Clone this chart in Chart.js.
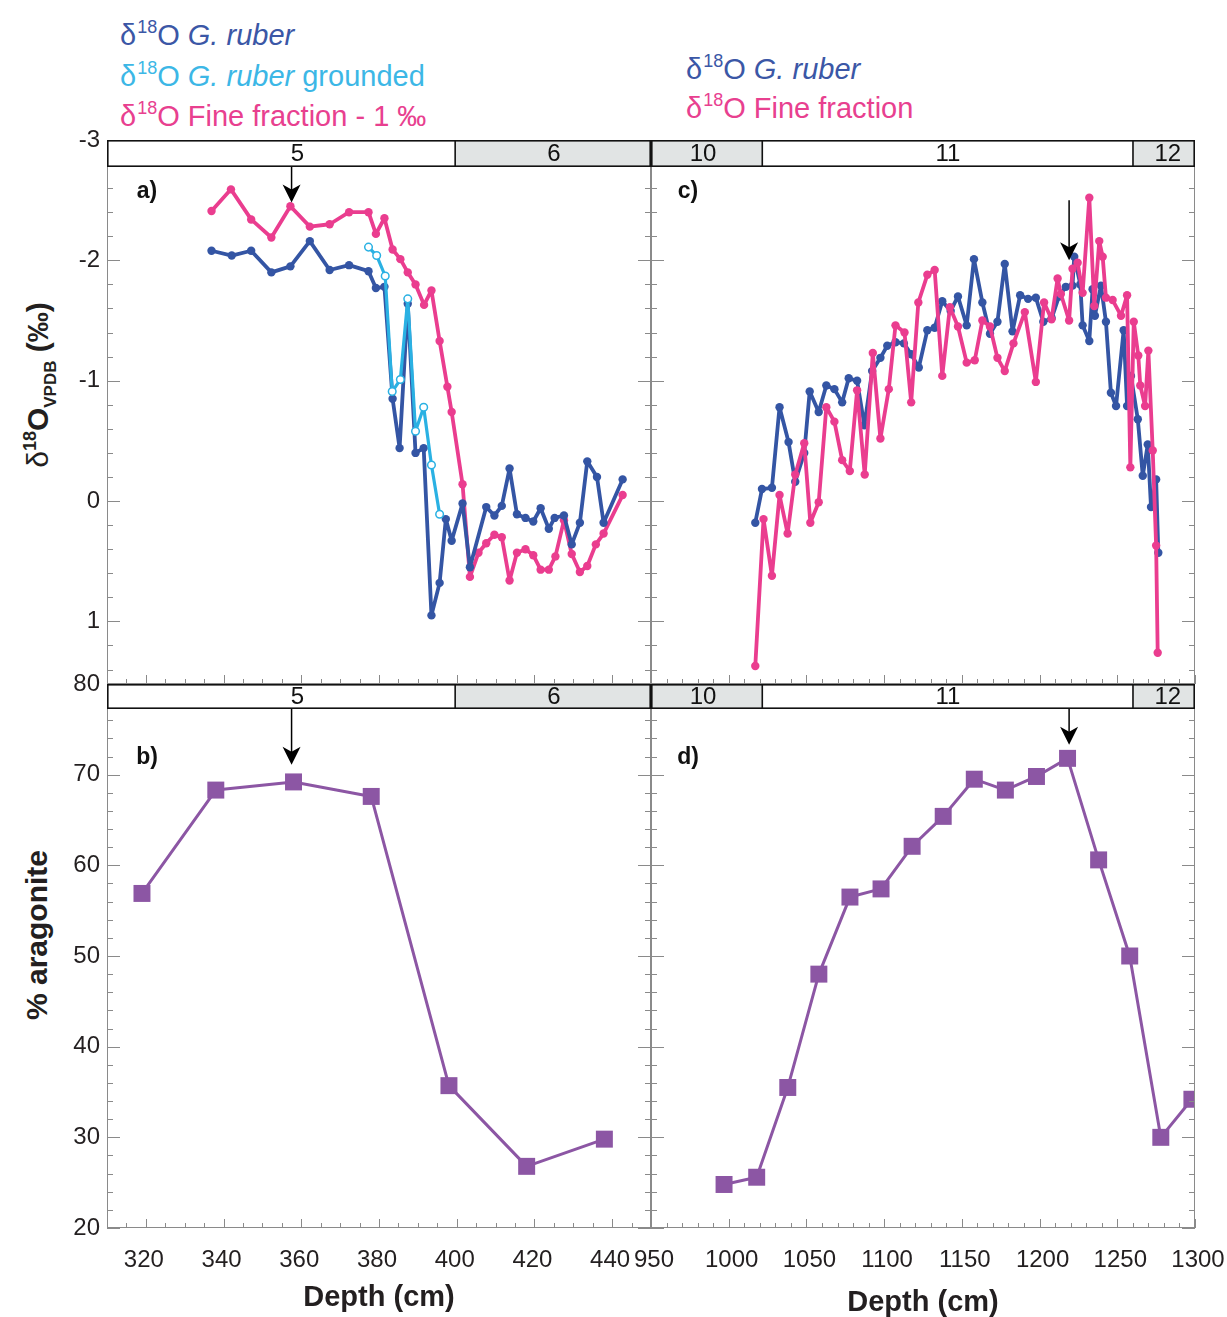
<!DOCTYPE html>
<html>
<head>
<meta charset="utf-8">
<title>δ18O and aragonite vs depth</title>
<script src="https://cdn.jsdelivr.net/npm/chart.js@4.4.1/dist/chart.umd.min.js"></script>
<style>
  html, body { margin: 0; padding: 0; background: #fff; }
  body { position: relative; width: 1227px; height: 1317px; overflow: hidden;
         font-family: "Liberation Sans", Arial, sans-serif; }
  canvas { position: absolute; }
  .leg { position: absolute; font-size: 29px; line-height: 29px; white-space: nowrap; }
  .leg .s { font-size: 18px; position: relative; top: -12px; margin-left: 1px; }
  .ytitle { position: absolute; white-space: nowrap; font-weight: bold; font-size: 30px; line-height: 30px;
            color: #231f20; transform: translate(-50%, -50%) rotate(-90deg); }
  .ytitle .s { font-size: 18px; position: relative; top: -12px; }
  .ytitle .b { font-size: 17px; position: relative; top: 8px; }
</style>
</head>
<body>

<div class="leg" style="left:120px;top:21px;color:#3b57a6">δ<span class="s">18</span>O <i>G. ruber</i></div>
<div class="leg" style="left:120px;top:62px;color:#3cb7e6">δ<span class="s">18</span>O <i>G. ruber</i> grounded</div>
<div class="leg" style="left:120px;top:102px;color:#e8408f">δ<span class="s">18</span>O Fine fraction - 1 ‰</div>
<div class="leg" style="left:686px;top:55px;color:#3b57a6">δ<span class="s">18</span>O <i>G. ruber</i></div>
<div class="leg" style="left:686px;top:94px;color:#e8408f">δ<span class="s">18</span>O Fine fraction</div>

<div class="ytitle" style="left:40px;top:385px"><span style="font-weight:normal">δ</span><span class="s">18</span>O<span class="b">VPDB</span> (‰)</div>
<div class="ytitle" style="left:37px;top:935px">% aragonite</div>

<canvas id="chartA" width="660" height="590" style="left:0;top:117px"></canvas>
<canvas id="chartC" width="653" height="574" style="left:601px;top:125px"></canvas>
<canvas id="chartB" width="663" height="656" style="left:0;top:661px"></canvas>
<canvas id="chartD" width="653" height="651" style="left:601px;top:669px"></canvas>

<script>
// ---- a) 310–450 cm: d18O (‰ VPDB) ----
const ruberDepthA = [336.9,342.1,347.1,352.3,357.2,362.2,367.3,372.3,377.3,379.2,381.4,383.5,385.3,387.4,
  389.4,391.5,393.5,395.6,397.2,398.7,401.5,403.4,407.6,409.7,411.6,413.6,415.5,417.7,419.7,421.6,423.7,
  425.2,427.6,429.6,431.7,433.6,436.1,437.8,442.7];
const ruberA = [-2.08,-2.04,-2.08,-1.90,-1.95,-2.16,-1.92,-1.96,-1.91,-1.77,-1.78,-0.85,-0.44,-1.64,
  -0.40,-0.44,0.95,0.68,0.15,0.33,0.02,0.55,0.05,0.12,0.04,-0.27,0.11,0.14,0.17,0.06,0.23,
  0.14,0.12,0.36,0.18,-0.33,-0.20,0.18,-0.18];

const groundDepthA = [377.3,379.4,381.6,383.4,385.5,387.4,389.4,391.5,393.5,395.6];
const groundA = [-2.11,-2.04,-1.87,-0.91,-1.01,-1.68,-0.58,-0.78,-0.30,0.11];

// fine fraction already shifted by -1 ‰ in the figure
const fineDepthA = [336.9,341.9,347.1,352.3,357.2,362.2,367.3,372.3,377.3,379.2,381.4,383.5,385.5,387.4,
  389.4,391.6,393.5,395.6,397.6,398.7,401.5,403.4,405.6,407.6,409.7,411.6,413.6,415.5,417.7,419.7,
  421.6,423.7,425.4,427.6,429.6,431.7,433.6,435.8,437.8,442.7];
const fineA = [-2.41,-2.59,-2.34,-2.19,-2.45,-2.28,-2.30,-2.40,-2.40,-2.22,-2.35,-2.09,-2.01,-1.90,
  -1.80,-1.63,-1.75,-1.33,-0.95,-0.74,-0.14,0.63,0.43,0.35,0.28,0.30,0.66,0.43,0.40,0.45,
  0.57,0.57,0.46,0.16,0.44,0.59,0.54,0.36,0.27,-0.05];

// ---- c) 950–1300 cm ----
const ruberDepthC = [1017.1,1021.4,1027.8,1032.7,1038.5,1042.8,1048.6,1052.1,1057.9,1062.8,1068.0,1073.0,
  1077.2,1082.6,1087.3,1092.3,1097.6,1102.0,1107.3,1112.7,1117.4,1122.3,1127.8,1132.5,1137.4,1142.8,
  1147.5,1153.1,1157.8,1163.2,1168.1,1172.9,1177.6,1182.6,1187.5,1192.6,1197.6,1202.4,1207.8,1212.5,
  1216.9,1221.2,1222.3,1226.2,1227.7,1232.0,1234.1,1235.6,1239.5,1242.7,1245.9,1249.2,1254.1,1256.3,
  1258.8,1263.2,1266.4,1269.6,1271.7,1275.0,1276.4];
const ruberC = [0.18,-0.10,-0.11,-0.78,-0.49,-0.16,-0.40,-0.91,-0.74,-0.96,-0.93,-0.82,
  -1.02,-1.00,-0.63,-1.08,-1.19,-1.29,-1.32,-1.31,-1.22,-1.11,-1.42,-1.44,-1.66,-1.58,
  -1.70,-1.46,-2.01,-1.65,-1.39,-1.49,-1.97,-1.41,-1.71,-1.68,-1.69,-1.49,-1.52,-1.70,
  -1.78,-1.79,-2.03,-1.80,-1.46,-1.33,-1.76,-1.54,-1.79,-1.49,-0.90,-0.79,-1.42,-0.79,
  -1.04,-0.68,-0.21,-0.47,0.05,-0.18,0.43];

const fineDepthC = [1017.1,1022.4,1027.8,1032.7,1037.9,1042.8,1048.6,1052.5,1057.9,1062.8,1068.0,1073.0,
  1077.9,1082.6,1087.5,1092.7,1097.6,1103.0,1107.3,1113.1,1117.4,1122.0,1127.8,1132.5,1137.4,1142.3,
  1147.5,1153.1,1158.3,1163.2,1168.1,1172.9,1177.6,1183.2,1190.5,1197.6,1202.9,1207.7,1211.6,1213.7,
  1219.0,1221.2,1224.5,1227.7,1232.0,1235.2,1238.4,1240.6,1242.7,1247.0,1252.4,1256.3,1258.4,1260.6,
  1263.5,1264.8,1267.9,1270.0,1272.8,1275.0,1276.0];
const fineC = [1.37,0.15,0.62,-0.05,0.27,-0.22,-0.48,0.18,0.01,-0.78,-0.66,-0.34,
  -0.25,-0.92,-0.22,-1.23,-0.52,-0.93,-1.46,-1.40,-0.82,-1.65,-1.88,-1.92,-1.04,-1.61,
  -1.45,-1.15,-1.17,-1.50,-1.45,-1.19,-1.08,-1.31,-1.57,-0.99,-1.65,-1.51,-1.85,-1.72,
  -1.50,-1.93,-1.98,-1.73,-2.52,-1.62,-2.16,-2.03,-1.69,-1.67,-1.54,-1.71,-0.28,-1.49,
  -1.21,-0.96,-0.79,-1.25,-0.42,0.37,1.26];

// ---- b) and d) % aragonite ----
const aragDepthB = [319, 338, 358, 378, 398, 418, 438];
const aragB = [56.9, 68.3, 69.2, 67.6, 35.7, 26.8, 29.8];

const aragDepthD = [997,1018,1038,1058,1078,1098,1118,1138,1158,1178,1198,1218,1238,1258,1278,1298];
const aragD = [24.8,25.6,35.5,48.0,56.5,57.4,62.1,65.4,69.5,68.3,69.8,71.8,60.6,50.0,30.0,34.2];

// ---- tick labels ----
const isoTicks = [-3, -2, -1, 0, 1];
const aragTicks = [20, 30, 40, 50, 60, 70, 80];
const depthTicksL = [320, 340, 360, 380, 400, 420, 440];
const depthTicksR = [950, 1000, 1050, 1100, 1150, 1200, 1250, 1300];

// ---- MIS stage bars and arrows ----
const stageNamesL = ['5', '6'];
const stageBoundsL = [310, 399.6, 450];
const stageLabelAtL = [359, 425];
const stageNamesR = ['10', '11', '12'];
const stageBoundsR = [950, 1021.6, 1260.1, 1300];
const stageLabelAtR = [983.5, 1141, 1282.5];

const arrowDepthL = 357.5;
const arrowDepthR = 1219;

const BLUE = '#3455a4';
const LIGHT = '#2ab1e3';
const PINK = '#ea3d8f';
const PURPLE = '#8c56a4';
const FONT = '"Liberation Sans", Arial, sans-serif';

Chart.defaults.font.family = FONT;
Chart.defaults.color = '#231f20';

function xy(xs, ys) { return xs.map((x, i) => ({ x: x, y: ys[i] })); }

function steps(min, max, step) {
  const out = [];
  for (let k = Math.ceil(min / step - 1e-6); k * step <= max + 1e-6; k++) out.push(k * step);
  return out;
}
function onGrid(v, step) { return Math.abs(v / step - Math.round(v / step)) < 1e-6; }

// per-panel decorations: inward ticks, frame, stage bar, arrow, panel letter
const decor = {
  chartA: { xMinor: 5, xMajor: 20, yMinor: 0.2, yMajor: 1, bar: 27,
            names: stageNamesL, bounds: stageBoundsL, labelAt: stageLabelAtL,
            arrowAt: arrowDepthL, arrowTip: -2.48, arrowTail: null, letter: 'a)', dx: 40, dy: 52 },
  chartC: { xMinor: 10, xMajor: 50, yMinor: 0.2, yMajor: 1, bar: 27,
            names: stageNamesR, bounds: stageBoundsR, labelAt: stageLabelAtR,
            arrowAt: arrowDepthR, arrowTip: -2.0, arrowTail: -2.5, letter: 'c)', dx: 37, dy: 52 },
  chartB: { xMinor: 5, xMajor: 20, yMinor: 2, yMajor: 10, bar: 25,
            names: stageNamesL, bounds: stageBoundsL, labelAt: stageLabelAtL,
            arrowAt: arrowDepthL, arrowTip: 71.1, arrowTail: null, letter: 'b)', dx: 40, dy: 74 },
  chartD: { xMinor: 10, xMajor: 50, yMinor: 2, yMajor: 10, bar: 25,
            names: stageNamesR, bounds: stageBoundsR, labelAt: stageLabelAtR,
            arrowAt: arrowDepthR, arrowTip: 73.3, arrowTail: null, letter: 'd)', dx: 37, dy: 74 }
};

const panelDecor = {
  id: 'panelDecor',
  afterDatasetsDraw(chart) {
    const o = decor[chart.canvas.id];
    const ctx = chart.ctx, ca = chart.chartArea;
    const xs = chart.scales.x, ys = chart.scales.y;
    ctx.save();

    // tick marks pointing into the plot, on left, right and bottom edges
    ctx.strokeStyle = '#8a8a8a';
    ctx.lineWidth = 1;
    ctx.beginPath();
    steps(ys.min, ys.max, o.yMinor).forEach(v => {
      const py = Math.round(ys.getPixelForValue(v)) + 0.5;
      const len = onGrid(v, o.yMajor) ? 13 : 6;
      ctx.moveTo(ca.left, py); ctx.lineTo(ca.left + len, py);
      ctx.moveTo(ca.right, py); ctx.lineTo(ca.right - len, py);
    });
    steps(xs.min, xs.max, o.xMinor).forEach(v => {
      const px = Math.round(xs.getPixelForValue(v)) + 0.5;
      const len = onGrid(v, o.xMajor) ? 9 : 5;
      ctx.moveTo(px, ca.bottom); ctx.lineTo(px, ca.bottom - len);
    });
    ctx.stroke();
    ctx.strokeRect(ca.left + 0.5, ca.top + 0.5, ca.width - 1, ca.height - 1);

    // marine isotope stage bar along the top
    const h = o.bar;
    o.names.forEach((name, i) => {
      const x0 = xs.getPixelForValue(o.bounds[i]);
      const x1 = xs.getPixelForValue(o.bounds[i + 1]);
      ctx.fillStyle = Number(name) % 2 === 0 ? '#e1e4e4' : '#ffffff';
      ctx.fillRect(x0, ca.top, x1 - x0, h);
    });
    ctx.strokeStyle = '#111';
    ctx.lineWidth = 1.6;
    ctx.strokeRect(ca.left + 0.8, ca.top + 0.8, ca.width - 1.6, h - 1.6);
    ctx.beginPath();
    o.bounds.slice(1, -1).forEach(b => {
      const px = xs.getPixelForValue(b);
      ctx.moveTo(px, ca.top); ctx.lineTo(px, ca.top + h);
    });
    ctx.stroke();
    ctx.fillStyle = '#111';
    ctx.font = '24px ' + FONT;
    ctx.textAlign = 'center';
    ctx.textBaseline = 'middle';
    o.names.forEach((name, i) => {
      ctx.fillText(name, xs.getPixelForValue(o.labelAt[i]), ca.top + h / 2 + 1);
    });

    // arrow
    const ax = xs.getPixelForValue(o.arrowAt);
    const tipY = ys.getPixelForValue(o.arrowTip);
    const tailY = o.arrowTail === null ? ca.top + h : ys.getPixelForValue(o.arrowTail);
    ctx.strokeStyle = '#000';
    ctx.lineWidth = 1.5;
    ctx.beginPath(); ctx.moveTo(ax, tailY); ctx.lineTo(ax, tipY - 10); ctx.stroke();
    ctx.fillStyle = '#000';
    ctx.beginPath();
    ctx.moveTo(ax, tipY); ctx.lineTo(ax - 9, tipY - 18); ctx.lineTo(ax, tipY - 13); ctx.lineTo(ax + 9, tipY - 18);
    ctx.closePath(); ctx.fill();

    // panel letter
    ctx.fillStyle = '#111';
    ctx.font = 'bold 23px ' + FONT;
    ctx.fillText(o.letter, ca.left + o.dx, ca.top + o.dy);
    ctx.restore();
  }
};

function isoSeries(label, xs, ys, color) {
  return { label: label, data: xy(xs, ys), showLine: true, borderColor: color, backgroundColor: color,
           borderWidth: 3.8, borderJoinStyle: 'round', borderCapStyle: 'round',
           pointRadius: 4.2, pointBackgroundColor: color, pointBorderWidth: 0 };
}

function aragSeries(xs, ys) {
  return { label: '% aragonite', data: xy(xs, ys), showLine: true, borderColor: PURPLE, backgroundColor: PURPLE,
           borderWidth: 3, borderJoinStyle: 'round', pointStyle: 'rect', pointRadius: 12,
           pointBackgroundColor: PURPLE, pointBorderWidth: 0 };
}

const fixedTicks = arr => s => { s.ticks = arr.map(v => ({ value: v })); };
const plainLabel = v => String(v);
const noGrid = { display: false, drawTicks: false };
const tickFont = { size: 24 };

const baseOptions = {
  responsive: false,
  animation: false,
  plugins: { legend: { display: false }, tooltip: { enabled: false } }
};

// a) d18O, 310-450 cm
new Chart(document.getElementById('chartA'), {
  type: 'scatter',
  data: {
    datasets: [
      { label: 'G. ruber grounded', data: xy(groundDepthA, groundA), showLine: true, borderColor: LIGHT,
        borderWidth: 3.2, borderJoinStyle: 'round', pointRadius: 3.8, pointBackgroundColor: '#ffffff',
        pointBorderColor: LIGHT, pointBorderWidth: 1.5 },
      isoSeries('G. ruber', ruberDepthA, ruberA, BLUE),
      isoSeries('Fine fraction - 1 ‰', fineDepthA, fineA, PINK)
    ]
  },
  options: Object.assign({}, baseOptions, {
    layout: { padding: { left: 0, right: 9, top: 23, bottom: 23 } },
    scales: {
      x: { type: 'linear', display: false, min: 310, max: 450 },
      y: { type: 'linear', reverse: true, min: -3, max: 1.52,
           afterFit: s => { s.width = 107; }, afterBuildTicks: fixedTicks(isoTicks),
           grid: noGrid, border: { display: false },
           ticks: { font: tickFont, padding: 7, autoSkip: false, callback: plainLabel } }
    }
  }),
  plugins: [panelDecor]
});

// c) d18O, 950-1300 cm
new Chart(document.getElementById('chartC'), {
  type: 'scatter',
  data: {
    datasets: [
      isoSeries('Fine fraction', fineDepthC, fineC, PINK),
      isoSeries('G. ruber', ruberDepthC, ruberC, BLUE)
    ]
  },
  options: Object.assign({}, baseOptions, {
    layout: { padding: { left: 50, right: 59, top: 15, bottom: 15 } },
    scales: {
      x: { type: 'linear', display: false, min: 950, max: 1300 },
      y: { type: 'linear', display: false, reverse: true, min: -3, max: 1.52 }
    }
  }),
  plugins: [panelDecor]
});

// b) % aragonite, 310-450 cm
new Chart(document.getElementById('chartB'), {
  type: 'scatter',
  data: { datasets: [aragSeries(aragDepthB, aragB)] },
  options: Object.assign({}, baseOptions, {
    layout: { padding: { left: 0, right: 12, top: 23, bottom: 0 } },
    scales: {
      x: { type: 'linear', min: 310, max: 450,
           afterFit: s => { s.height = 89; }, afterBuildTicks: fixedTicks(depthTicksL),
           grid: noGrid, border: { display: false },
           ticks: { font: tickFont, padding: 18, autoSkip: false, maxRotation: 0, labelOffset: -2, callback: plainLabel },
           title: { display: true, text: 'Depth (cm)', font: { size: 29, weight: 'bold' }, padding: { top: 0, bottom: 2 } } },
      y: { type: 'linear', min: 20, max: 80,
           afterFit: s => { s.width = 107; }, afterBuildTicks: fixedTicks(aragTicks),
           grid: noGrid, border: { display: false },
           ticks: { font: tickFont, padding: 7, autoSkip: false, callback: plainLabel } }
    }
  }),
  plugins: [panelDecor]
});

// d) % aragonite, 950-1300 cm
new Chart(document.getElementById('chartD'), {
  type: 'scatter',
  data: { datasets: [aragSeries(aragDepthD, aragD)] },
  options: Object.assign({}, baseOptions, {
    layout: { padding: { left: 50, right: 59, top: 15, bottom: 0 } },
    scales: {
      x: { type: 'linear', min: 950, max: 1300,
           afterFit: s => { s.height = 92; }, afterBuildTicks: fixedTicks(depthTicksR),
           grid: noGrid, border: { display: false },
           ticks: { font: tickFont, padding: 18, autoSkip: false, maxRotation: 0, labelOffset: 3, callback: plainLabel },
           title: { display: true, text: 'Depth (cm)', font: { size: 29, weight: 'bold' }, padding: { top: 0, bottom: 0 } } },
      y: { type: 'linear', display: false, min: 20, max: 80 }
    }
  }),
  plugins: [panelDecor]
});
</script>
</body>
</html>
